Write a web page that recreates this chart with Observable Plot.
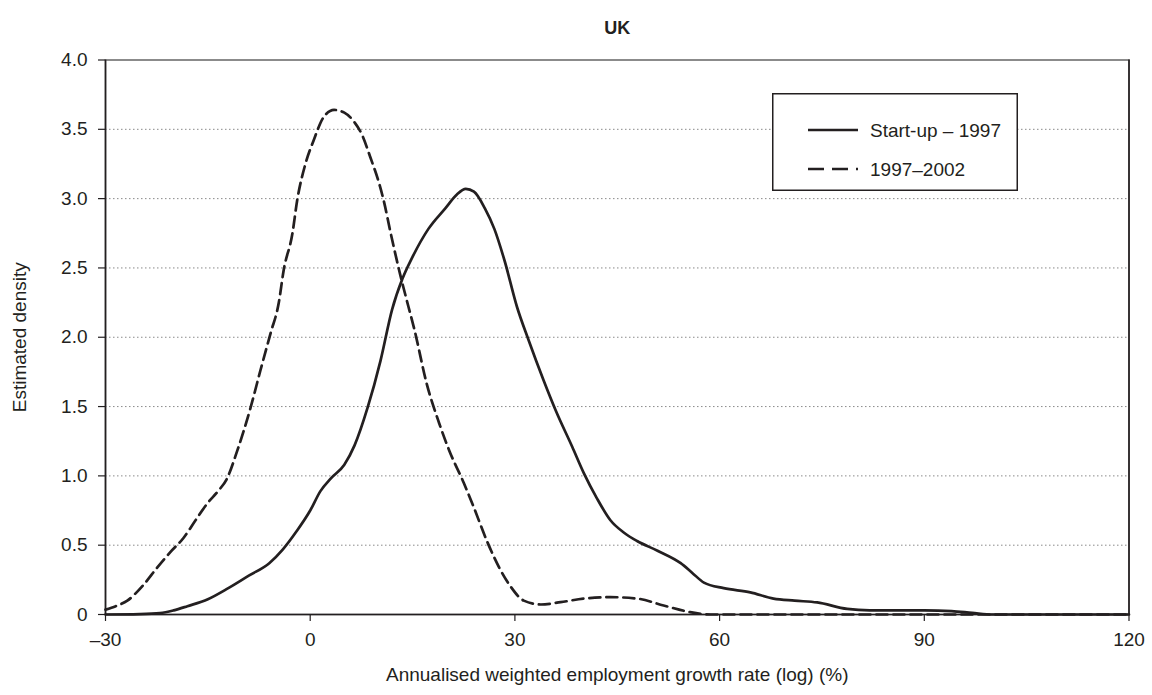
<!DOCTYPE html>
<html><head><meta charset="utf-8">
<script src="https://cdn.jsdelivr.net/npm/d3@7"></script>
<script src="https://cdn.jsdelivr.net/npm/@observablehq/plot@0.6"></script>
<style>
body{margin:0;background:#fff;}
#wrap{position:relative;width:1152px;height:695px;font-family:"Liberation Sans",Arial,sans-serif;}
#legend{position:absolute;left:772px;top:93px;}
</style></head><body><div id="wrap"></div>
<script>
// Series names
const seriesNames = ["Start-up – 1997", "1997–2002"];
// Start-up – 1997 (solid)
const startupX = [-30,-25,-22,-20,-18,-15,-12,-9,-6,-4,-2,0,1.5,3,5,6.5,8.4,10.3,12,13.5,15,17.3,19.8,21.5,22.8,24,25.6,27,28.5,30.3,32,34.2,36,38.4,40.1,42,44,46,47.9,50.9,54.3,56,57.7,60.6,64.5,67.9,71,74.3,78.7,82,86,90,94,97,100,120];
const startupY = [0,0.003,0.01,0.03,0.06,0.11,0.19,0.28,0.37,0.47,0.6,0.75,0.89,0.98,1.08,1.22,1.49,1.83,2.2,2.42,2.58,2.78,2.93,3.03,3.07,3.05,2.93,2.78,2.55,2.22,1.98,1.69,1.47,1.21,1.02,0.84,0.68,0.59,0.53,0.46,0.37,0.30,0.23,0.19,0.16,0.115,0.10,0.087,0.04,0.03,0.03,0.03,0.025,0.012,0,0];
// 1997–2002 (dashed)
const laterX = [-30,-28.5,-26.8,-24.5,-22.4,-20.5,-18.6,-16.8,-15.1,-13.5,-12.2,-10.7,-8.75,-7.3,-5.8,-4.6,-3.9,-2.6,-1.9,-0.7,0.5,2,3.5,5,6.5,7.6,8.8,10.1,10.8,11.8,13.2,14.4,15.2,17.1,18.9,20.4,22.5,24,25.9,27.9,29.4,31.3,33.8,36.7,40.1,44,47.9,51.8,55.7,58.7,120];
const laterY = [0.035,0.06,0.10,0.21,0.34,0.45,0.55,0.68,0.80,0.89,0.98,1.18,1.49,1.76,2.03,2.25,2.48,2.75,2.99,3.25,3.42,3.59,3.64,3.62,3.55,3.46,3.30,3.11,2.98,2.75,2.45,2.22,2.07,1.66,1.38,1.18,0.95,0.77,0.53,0.32,0.20,0.10,0.072,0.089,0.115,0.125,0.115,0.065,0.017,0,0];
// Ticks
const xTicks = [-30,0,30,60,90,120];
const yTicks = [0,0.5,1,1.5,2,2.5,3,3.5,4];
const title = "UK";
const xLabel = "Annualised weighted employment growth rate (log) (%)";
const yLabel = "Estimated density";

const startup = startupX.map((x,i)=>({x, y:startupY[i]}));
const later = laterX.map((x,i)=>({x, y:laterY[i]}));
const ink = "#231f20";
const fmtX = d => d < 0 ? "–" + Math.abs(d) : String(d);
const fmtY = d => d === 0 ? "0" : d.toFixed(1);
const fs = 19;

const chart = Plot.plot({
  width:1152, height:695,
  marginLeft:105, marginRight:23.5, marginTop:59.5, marginBottom:81,
  style:{fontFamily:"'Liberation Sans', Arial, sans-serif", fontSize:fs+"px", color:ink, background:"white"},
  x:{domain:[-30,120]},
  y:{domain:[0,4]},
  marks:[
    Plot.gridY(yTicks.filter(d=>d>0&&d<4), {stroke:"#8a8a8a", strokeOpacity:1, strokeWidth:1, strokeDasharray:"1.5,2.5"}),
    Plot.frame({stroke:"#666", strokeWidth:1.5}),
    Plot.axisX({ticks:xTicks, tickSize:7, tickPadding:11, tickFormat:fmtX, label:null, stroke:ink, strokeWidth:1.2, fontSize:fs}),
    Plot.axisY({ticks:yTicks, tickSize:7, tickPadding:11, tickFormat:fmtY, label:null, stroke:ink, strokeWidth:1.2, fontSize:fs}),
    Plot.ruleY([0], {stroke:ink, strokeWidth:1.6}),
    Plot.ruleX([-30], {stroke:ink, strokeWidth:1.6}),
    Plot.ruleX([120], {stroke:ink, strokeWidth:1.6}),
    Plot.line(startup, {x:"x", y:"y", curve:"monotone-x", stroke:ink, strokeWidth:2.7}),
    Plot.line(later, {x:"x", y:"y", curve:"monotone-x", stroke:ink, strokeWidth:2.7, strokeDasharray:"11,6"}),
    Plot.text([title], {frameAnchor:"top", dy:-32, textAnchor:"middle", lineAnchor:"middle", fontWeight:"bold", fontSize:18, fill:ink}),
    Plot.text([yLabel], {frameAnchor:"left", dx:-86, rotate:-90, textAnchor:"middle", lineAnchor:"middle", fontSize:fs, fill:ink}),
    Plot.text([xLabel], {frameAnchor:"bottom", dy:60, textAnchor:"middle", lineAnchor:"middle", fontSize:fs, fill:ink})
  ]
});
const wrap = document.getElementById("wrap");
wrap.appendChild(chart);

// Legend
const ns = "http://www.w3.org/2000/svg";
const lg = document.createElement("div");
lg.id = "legend";
const lw = 246, lh = 98;
const svg = document.createElementNS(ns, "svg");
svg.setAttribute("width", lw); svg.setAttribute("height", lh);
svg.innerHTML = `<rect x="0.75" y="0.75" width="${lw-1.5}" height="${lh-1.5}" fill="white" stroke="${ink}" stroke-width="1.5"/>`;
seriesNames.forEach((name,i)=>{
  const y = 37 + i*39;
  const line = document.createElementNS(ns, "line");
  line.setAttribute("x1", 36); line.setAttribute("x2", 86);
  line.setAttribute("y1", y); line.setAttribute("y2", y);
  line.setAttribute("stroke", ink); line.setAttribute("stroke-width", 2.7);
  if (i === 1) line.setAttribute("stroke-dasharray", "16,8");
  svg.appendChild(line);
  const t = document.createElementNS(ns, "text");
  t.setAttribute("x", 98); t.setAttribute("y", y);
  t.setAttribute("dy", "0.35em");
  t.setAttribute("font-size", fs);
  t.setAttribute("fill", ink);
  t.setAttribute("font-family", "'Liberation Sans', Arial, sans-serif");
  t.textContent = name;
  svg.appendChild(t);
});
lg.appendChild(svg);
wrap.appendChild(lg);
</script></body></html>
